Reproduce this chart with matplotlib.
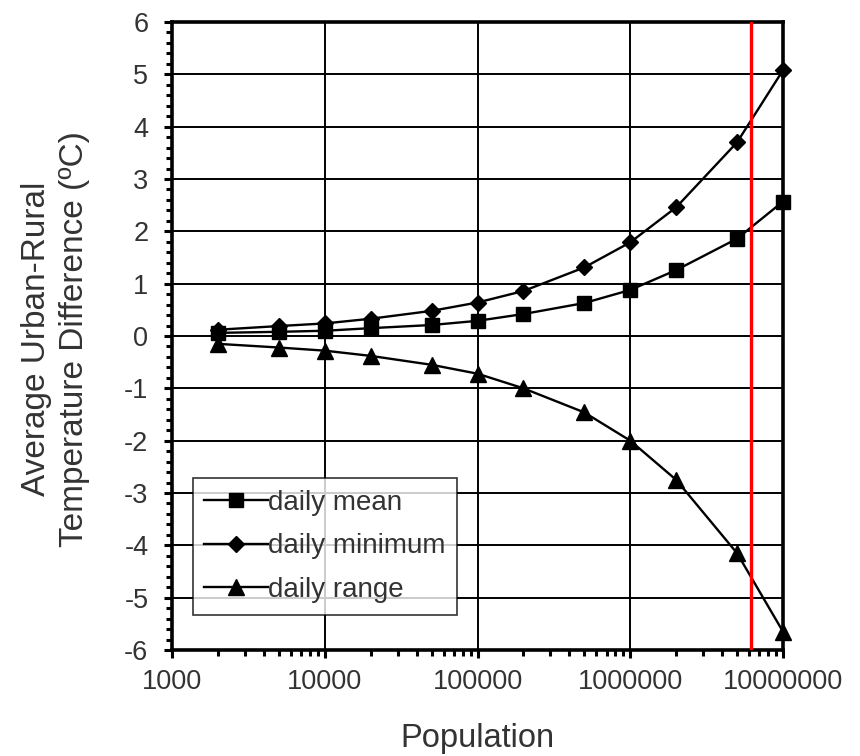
import matplotlib

matplotlib.use("Agg")

import matplotlib.pyplot as plt
from matplotlib.ticker import FixedLocator, LogLocator, NullFormatter

plt.rcParams["font.family"] = ["Liberation Sans", "DejaVu Sans"]
plt.rcParams["axes.unicode_minus"] = False

# Population sample points and temperature differences (deg C)
population = [2000, 5000, 10000, 20000, 50000, 100000, 200000, 500000,
              1000000, 2000000, 5000000, 10000000]
daily_mean = [0.06, 0.08, 0.10, 0.15, 0.21, 0.29, 0.42, 0.63, 0.88, 1.26, 1.86, 2.57]
daily_minimum = [0.12, 0.19, 0.24, 0.33, 0.48, 0.64, 0.86, 1.31, 1.79, 2.46, 3.70, 5.08]
daily_range = [-0.15, -0.22, -0.28, -0.38, -0.55, -0.72, -1.0, -1.46, -2.0, -2.75, -4.15, -5.65]
marker_population = 6.2e6

x_ticks = [1000, 10000, 100000, 1000000, 10000000]
x_tick_labels = ["1000", "10000", "100000", "1000000", "10000000"]
y_ticks = list(range(-6, 7))

fig = plt.figure(figsize=(8.6, 7.56), dpi=100)
ax = fig.add_axes([0.2, 0.1402, 0.7105, 0.8307])

series = (
    (daily_mean, "s", 10, "daily mean"),
    (daily_minimum, "D", 8.5, "daily minimum"),
    (daily_range, "^", 11, "daily range"),
)
for values, marker, size, label in series:
    ax.plot(population, values, color="black", linewidth=1.7, marker=marker,
            markersize=size, markerfacecolor="black", markeredgecolor="black",
            label=label, zorder=3, clip_on=False)

ax.axvline(marker_population, color="#ff0000", linewidth=2.4, zorder=4)

ax.set_xscale("log")
ax.set_xlim(1000, 10000000)
ax.set_ylim(-6, 6)
ax.xaxis.set_major_locator(FixedLocator(x_ticks))
ax.set_xticklabels(x_tick_labels)
ax.xaxis.set_minor_locator(LogLocator(base=10, subs=range(2, 10)))
ax.xaxis.set_minor_formatter(NullFormatter())
ax.set_yticks(y_ticks)
ax.set_yticks([v / 5 for v in range(-30, 31)], minor=True)

ax.grid(True, which="major", color="black", linewidth=1.4)
for spine in ax.spines.values():
    spine.set_linewidth(2.6)
ax.tick_params(which="major", direction="out", length=6, width=2.2,
               labelsize=19.5, colors="black")
ax.tick_params(which="minor", direction="out", length=4, width=2.2)
ax.tick_params(axis="x", which="major", pad=8)
ax.tick_params(axis="y", which="major", pad=11)
for label in ax.get_xticklabels() + ax.get_yticklabels():
    label.set_color("#333333")

ax.set_xlabel("Population", fontsize=23.5, color="#333333")
ax.xaxis.set_label_coords(0.5, -0.117)
ax.set_ylabel("Average Urban-Rural\nTemperature Difference (ºC)", fontsize=24,
              color="#333333", linespacing=1.3)
ax.yaxis.set_label_coords(-0.134, 0.495)

legend = ax.legend(loc="lower left", bbox_to_anchor=(0.034, 0.056), fontsize=20,
                   frameon=True, fancybox=False, edgecolor="black",
                   handlelength=2.3, handletextpad=0.0, borderpad=0.42,
                   labelspacing=0.64, borderaxespad=0.0)
legend.get_frame().set_linewidth(1.2)
for text in legend.get_texts():
    text.set_color("#333333")

fig.savefig("out.png", dpi=100)
